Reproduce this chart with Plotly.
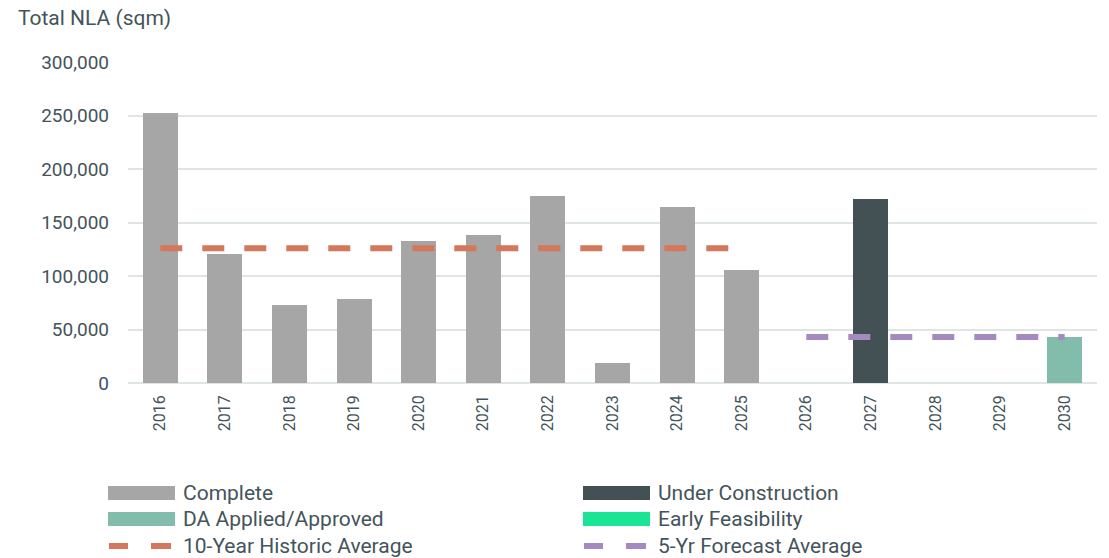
import plotly.graph_objects as go

years = ["2016", "2017", "2018", "2019", "2020", "2021", "2022", "2023",
         "2024", "2025", "2026", "2027", "2028", "2029", "2030"]
complete = [252000, 120500, 73000, 78500, 132500, 138000, 174800, 18700,
            164500, 105500, None, None, None, None, None]
under_construction = [None] * 11 + [172000, None, None, None]
da_applied = [None] * 14 + [43000]
early_feasibility = [None] * 15
hist_years = years[:10]
hist_avg = [126000, 126000, 126000, 126000, 126000, 126000, 126000, 126000, 126000, 126000]
fc_years = years[10:]
fc_avg = [43000, 43000, 43000, 43000, 43000]

C_COMPLETE = "#a6a6a6"
C_UC = "#435155"
C_DA = "#82bcab"
C_EF = "#19e595"
C_HIST = "#d4775a"
C_FC = "#a48ac0"
TXT = "#44545a"
FONT = "Roboto"

W, H = 1109, 558
L, R, T, B = 128, 12, 62, 175
PW, PH = W - L - R, H - T - B


def px(x):
    return (x - L) / PW


def py(y):
    return (H - B - y) / PH


fig = go.Figure()
for name, vals, col in [("Complete", complete, C_COMPLETE),
                        ("Under Construction", under_construction, C_UC),
                        ("DA Applied/Approved", da_applied, C_DA),
                        ("Early Feasibility", early_feasibility, C_EF)]:
    fig.add_trace(go.Bar(x=years, y=vals, name=name, marker_color=col,
                         marker_line_width=0, width=0.54, showlegend=False))

fig.add_trace(go.Scatter(x=hist_years, y=hist_avg, mode="lines",
                         name="10-Year Historic Average",
                         line=dict(color=C_HIST, width=6, dash="22px,20px"),
                         showlegend=False))
fig.add_trace(go.Scatter(x=fc_years, y=fc_avg, mode="lines",
                         name="5-Yr Forecast Average",
                         line=dict(color=C_FC, width=6, dash="22px,20px"),
                         showlegend=False))

shapes = []
annotations = []
legend_items = [
    ("Complete", C_COMPLETE, "bar", 108, 493),
    ("Under Construction", C_UC, "bar", 583, 493),
    ("DA Applied/Approved", C_DA, "bar", 108, 519),
    ("Early Feasibility", C_EF, "bar", 583, 519),
    ("10-Year Historic Average", C_HIST, "dash", 108, 546),
    ("5-Yr Forecast Average", C_FC, "dash", 583, 546),
]
for label, col, kind, x0, yc in legend_items:
    if kind == "bar":
        shapes.append(dict(type="rect", xref="paper", yref="paper",
                           x0=px(x0), x1=px(x0 + 67), y0=py(yc - 7), y1=py(yc + 7),
                           fillcolor=col, line=dict(width=0), layer="above"))
    else:
        for a, b in [(x0 + 1, x0 + 20), (x0 + 43, x0 + 63)]:
            shapes.append(dict(type="line", xref="paper", yref="paper",
                               x0=px(a), x1=px(b), y0=py(yc), y1=py(yc),
                               line=dict(color=col, width=6), layer="above"))
    annotations.append(dict(text=label, xref="paper", yref="paper",
                            x=px(x0 + 73), y=py(yc), xanchor="left", yanchor="middle",
                            showarrow=False, font=dict(size=21, color=TXT, family=FONT)))

annotations.append(dict(text="Total NLA (sqm)", xref="paper", yref="paper",
                        x=px(16), y=py(18), xanchor="left", yanchor="middle",
                        showarrow=False, font=dict(size=21, color=TXT, family=FONT)))

fig.update_layout(
    width=W, height=H,
    margin=dict(l=L, r=R, t=T, b=B, autoexpand=False),
    paper_bgcolor="white", plot_bgcolor="white",
    barmode="stack",
    font=dict(family=FONT, color=TXT, size=18),
    shapes=shapes, annotations=annotations,
    showlegend=False,
    xaxis=dict(type="category", categoryorder="array", categoryarray=years,
               tickangle=-90, tickfont=dict(size=16, color=TXT, family=FONT),
               showgrid=False, showline=False, ticks="", ticklabelstandoff=8,
               range=[-0.5, 14.5]),
    yaxis=dict(range=[0, 300000], tickvals=[0, 50000, 100000, 150000, 200000, 250000, 300000],
               tickformat=",d", showgrid=True, gridcolor="#dfe5e5", gridwidth=2,
               zeroline=True, zerolinecolor="#dfe5e5", zerolinewidth=2,
               showline=False, ticks="", ticklabelstandoff=18,
               tickfont=dict(size=19, color=TXT, family=FONT)),
)

fig.write_html("out.html", config={"displayModeBar": False},
               post_script="document.body.style.margin='0';document.body.style.overflow='hidden';")
